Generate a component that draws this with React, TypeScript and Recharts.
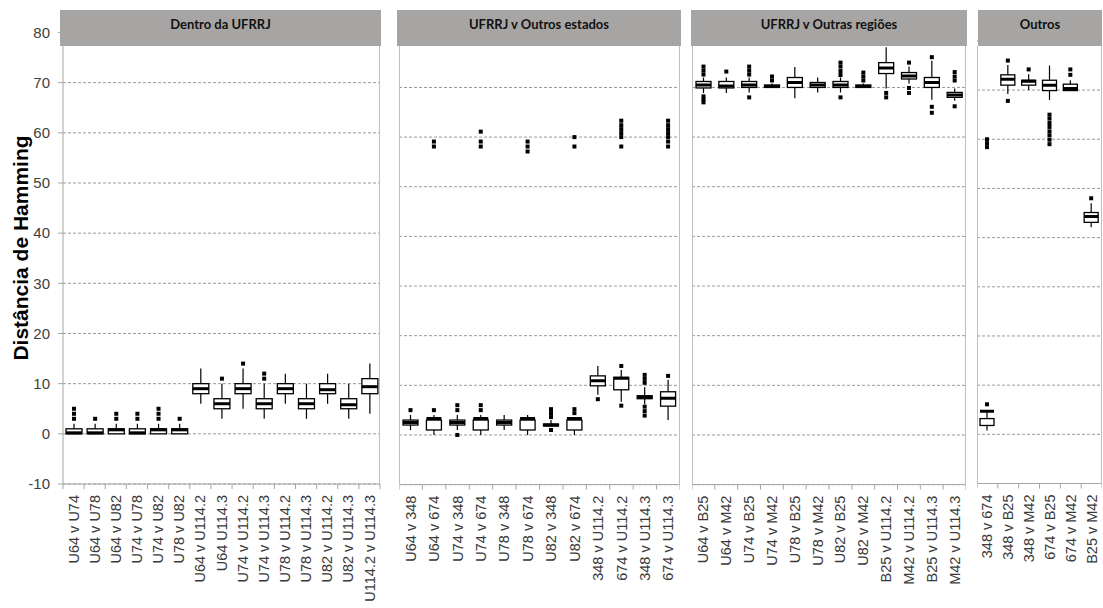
import React from "react";
import { ComposedChart, Bar, XAxis, YAxis, CartesianGrid } from "recharts";

// ---------- DATA ----------
const yTicks = [-10, 0, 10, 20, 30, 40, 50, 60, 70, 80];

const p1Title = "Dentro da UFRRJ";
const p1Names = ["U64 v U74", "U64 v U78", "U64 v U82", "U74 v U78", "U74 v U82", "U78 v U82", "U64 v U114.2", "U64 U114.3", "U74 v U114.2", "U74 v U114.3", "U78 v U114.2", "U78 v U114.3", "U82 v U114.2", "U82 v U114.3", "U114.2 v U114.3"];
const p1Low = [0, 0, 0, 0, 0, 0, 6, 3, 5, 3, 6, 3, 6, 3, 4];
const p1Q1 = [0, 0, 0, 0, 0, 0, 8, 5, 8, 5, 8, 5, 8, 5, 8];
const p1Med = [0.2, 0.2, 0.8, 0.2, 0.8, 0.8, 9, 6, 9, 6, 9, 6, 8.8, 5.8, 9.4];
const p1Q3 = [1, 1, 1, 1, 1, 1, 10, 7, 10, 7, 10, 7, 10, 7, 11];
const p1High = [2, 2, 2, 2, 2, 2, 13, 10, 13, 10, 12, 10, 12, 10, 14];
const p1Out = [[3, 4, 5], [3], [3, 4], [3, 4], [3, 4, 5], [3], [], [11], [14], [11, 12], [], [], [], [], []];

const p2Title = "UFRRJ v Outros estados";
const p2Names = ["U64 v 348", "U64 v 674", "U74 v 348", "U74 v 674", "U78 v 348", "U78 v 674", "U82 v 348", "U82 v 674", "348 v U114.2", "674 v U114.2", "348 v U114.3", "674 v U114.3"];
const p2Low = [1, 0, 1, 0, 1, 0, 1.6, 0, 8.1, 6.7, 6.2, 3.0];
const p2Q1 = [2, 1, 2, 1, 2, 1, 1.8, 1, 9.9, 9.1, 7.3, 5.8];
const p2Med = [2.5, 3.3, 2.5, 3.3, 2.5, 3.3, 2.0, 3.3, 10.9, 11.4, 7.6, 7.4];
const p2Q3 = [3, 3, 3, 3, 3, 3, 2.2, 3, 11.9, 11.6, 7.9, 8.7];
const p2High = [4, 4, 4, 4, 4, 4, 3, 3.6, 13.9, 13.1, 9.6, 11.1];
const p2Out = [
  [5],
  [5, 58.1, 59.1],
  [0, 5, 6],
  [5, 6, 58.1, 59.1, 61.1],
  [],
  [57.1, 58.1, 59.1],
  [1.0, 3.6, 4.4, 5.2],
  [4.4, 5.2, 58.1, 60.0],
  [7.2],
  [5.9, 13.9, 58.1, 60.0, 60.8, 61.6, 62.4, 63.3],
  [3.9, 4.8, 5.7, 10.5, 11.3, 12.1],
  [11.9, 58.1, 59.1, 60.0, 60.8, 61.6, 62.4, 63.3],
];

const p3Title = "UFRRJ v Outras regiões";
const p3Names = ["U64 v B25", "U64 v M42", "U74 v B25", "U74 v M42", "U78 v B25", "U78 v M42", "U82 v B25", "U82 v M42", "B25 v U114.2", "M42 v U114.2", "B25 v U114.3", "M42 v U114.3"];
const p3Low = [68.9, 68.9, 69, 70, 67.8, 69, 69, 70, 69.8, 70.8, 67.5, 67.3];
const p3Q1 = [69.9, 69.9, 70, 70, 70, 70, 70, 70, 72.8, 71.7, 70, 68];
const p3Med = [70.5, 70.3, 70.5, 70.2, 71, 70.5, 70.5, 70.2, 73.9, 72.3, 71, 68.5];
const p3Q3 = [71.2, 71.2, 71.2, 70.5, 72, 71, 71.2, 70.5, 75, 73, 72, 69];
const p3High = [72, 72, 72, 70.8, 74.1, 72, 72, 70.8, 78.1, 74.2, 75.4, 69.8];
const p3Out = [
  [67, 67.6, 68.2, 72.6, 73.4, 74.2],
  [73.2],
  [68, 72.6, 73.4, 74.2],
  [71.4, 72.2],
  [],
  [],
  [68, 72.5, 73.3, 74.2, 75],
  [71.4, 72.2, 73.0],
  [68, 68.9],
  [68.9, 69.9, 75],
  [64.9, 66.1, 76.1],
  [66.2, 71.4, 72.2, 73.1],
];

const p4Title = "Outros";
const p4Names = ["348 v 674", "348 v B25", "348 v M42", "674 v B25", "674 v M42", "B25 v M42"];
const p4Low = [0.8, 69.2, 70, 68, 69.9, 42.1];
const p4Q1 = [1.8, 71, 71, 69.9, 69.9, 43.1];
const p4Med = [4.7, 72.2, 71.8, 71, 70.3, 44.3];
const p4Q3 = [3.2, 73.1, 72, 72, 71.2, 45.1];
const p4High = [4.7, 75.1, 73.2, 75, 72, 47];
const p4Out = [
  [6.1, 58.4, 59.2, 60],
  [67.8, 76],
  [74.2],
  [59, 59.9, 60.8, 61.6, 62.5, 63.3, 64.2, 65],
  [73.1, 74.2],
  [48],
];

const yTitle = "Distância de Hamming";

function buildRows(names: string[], low: number[], q1: number[], med: number[], q3: number[], high: number[], out: number[][]) {
  return names.map((name, i) => ({
    name,
    range: [low[i], high[i]],
    wLo: low[i],
    wHi: high[i],
    q1: q1[i],
    med: med[i],
    q3: q3[i],
    out: out[i],
  }));
}

const panels = [
  { title: p1Title, rows: buildRows(p1Names, p1Low, p1Q1, p1Med, p1Q3, p1High, p1Out), left: 0, width: 381, yw: 63, right: 1, top: 32.5, bottom: 484, hl: 60, hw: 321, bw: 16 },
  { title: p2Title, rows: buildRows(p2Names, p2Low, p2Q1, p2Med, p2Q3, p2High, p2Out), left: 399, width: 281, yw: 0, right: 0, top: 37.8, bottom: 484.6, hl: 397, hw: 284, bw: 15 },
  { title: p3Title, rows: buildRows(p3Names, p3Low, p3Q1, p3Med, p3Q3, p3High, p3Out), left: 692, width: 274, yw: 0, right: 0, top: 37.8, bottom: 484.6, hl: 691, hw: 276, bw: 15 },
  { title: p4Title, rows: buildRows(p4Names, p4Low, p4Q1, p4Med, p4Q3, p4High, p4Out), left: 977, width: 125, yw: 0, right: 0, top: 40.9, bottom: 483.5, hl: 978, hw: 124, bw: 14 },
];

// ---------- RENDERING ----------
const FONT = "'Liberation Sans', Arial, sans-serif";
const XH = 120;
const H = 608;

function BoxShape(props: any) {
  const { x, y, width, height } = props;
  const p = props.payload || props;
  const top = Math.min(y, y + height);
  const bot = Math.max(y, y + height);
  const span = p.wHi - p.wLo;
  const py = (v: number) => bot - ((v - p.wLo) / span) * (bot - top);
  const cx = x + width / 2;
  return (
    <g>
      <line x1={cx} x2={cx} y1={py(p.wHi)} y2={py(p.q3)} stroke="#000" strokeWidth={1.2} />
      <line x1={cx} x2={cx} y1={py(p.q1)} y2={py(p.wLo)} stroke="#000" strokeWidth={1.2} />
      <rect x={x} y={py(p.q3)} width={width} height={Math.max(0.5, py(p.q1) - py(p.q3))} fill="#fff" stroke="#000" strokeWidth={1.3} />
      <line x1={x} x2={x + width} y1={py(p.med)} y2={py(p.med)} stroke="#000" strokeWidth={3} />
      {p.out.map((v: number, i: number) => (
        <rect key={i} x={cx - 2} y={py(v) - 2} width={4} height={4} fill="#000" />
      ))}
    </g>
  );
}

function makeTick(band: number, n: number) {
  return (props: any) => {
    const { x, y, payload, index } = props;
    return (
      <g>
        <line x1={x - band / 2} x2={x - band / 2} y1={y} y2={y + 5} stroke="#a6a6a6" />
        {index === n - 1 ? <line x1={x + band / 2} x2={x + band / 2} y1={y} y2={y + 5} stroke="#a6a6a6" /> : null}
        <text
          transform={`translate(${x},${y}) rotate(-90)`}
          x={-11}
          y={0}
          dy="0.35em"
          textAnchor="end"
          fontSize={14.5}
          fontFamily={FONT}
          fill="#3a3a3a"
        >
          {payload.value}
        </text>
      </g>
    );
  };
}

function Panel(props: any) {
  const { rows, left, width, yw, right, top, bottom, bw } = props;
  const n = rows.length;
  const band = (width - yw - right) / n;
  return (
    <div style={{ position: "absolute", left, top: 0 }}>
      <ComposedChart
        width={width}
        height={H}
        data={rows}
        margin={{ top, bottom: H - bottom - XH, left: 0, right }}
      >
        <CartesianGrid vertical={false} stroke="#9a9a9a" strokeDasharray="3 2" />
        <XAxis
          dataKey="name"
          interval={0}
          height={XH}
          tickSize={0}
          tickMargin={0}
          tickLine={false}
          axisLine={{ stroke: "#a6a6a6" }}
          tick={makeTick(band, n)}
        />
        <YAxis
          type="number"
          domain={[-10, 80]}
          ticks={yTicks}
          interval={0}
          allowDataOverflow
          hide={yw === 0}
          width={yw || 1}
          tickSize={5}
          tickMargin={8}
          axisLine={{ stroke: "#a6a6a6" }}
          tickLine={{ stroke: "#a6a6a6" }}
          tick={{ fontSize: 15, fontFamily: FONT, fill: "#404040" }}
        />
        <Bar dataKey="range" barSize={bw} shape={BoxShape} isAnimationActive={false} />
      </ComposedChart>
    </div>
  );
}

export default function App() {
  return (
    <div style={{ position: "absolute", left: 0, top: 0, width: 1103, height: H, background: "#fff", overflow: "hidden" }}>
      {panels.map((p, i) => (
        <Panel key={i} {...p} />
      ))}
      {/* plot borders */}
      {panels.map((p, i) => (
        <React.Fragment key={"b" + i}>
          {i > 0 ? (
            <div style={{ position: "absolute", left: p.left, top: 46, width: 1, height: p.bottom - 46, background: "#bfbfbf" }} />
          ) : null}
          <div style={{ position: "absolute", left: p.left + p.width - p.right - 1, top: 46, width: 1, height: p.bottom - 46, background: "#bfbfbf" }} />
        </React.Fragment>
      ))}
      {/* panel headers */}
      {panels.map((p, i) => (
        <div
          key={"h" + i}
          style={{
            position: "absolute",
            left: p.hl,
            top: 10,
            width: p.hw,
            height: 36,
            background: "#a7a5a3",
            fontFamily: "Lato, 'Open Sans', sans-serif",
            fontWeight: 700,
            fontSize: 13,
            lineHeight: "16px",
            paddingTop: 6,
            boxSizing: "border-box",
            textAlign: "center",
            color: "#111",
          }}
        >
          {p.title}
        </div>
      ))}
      <div
        style={{
          position: "absolute",
          left: 21,
          top: 248,
          transform: "translate(-50%, -50%) rotate(-90deg)",
          whiteSpace: "nowrap",
          fontFamily: FONT,
          fontWeight: 700,
          fontSize: 21,
          color: "#000",
        }}
      >
        {yTitle}
      </div>
    </div>
  );
}
